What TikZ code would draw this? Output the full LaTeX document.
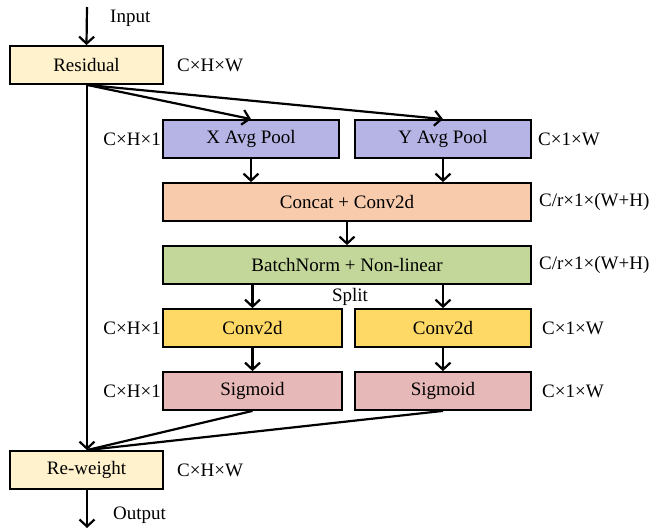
\documentclass[tikz,border=0pt]{standalone}
\usepackage{fontspec}
\setmainfont{Liberation Serif}
\usetikzlibrary{arrows.meta}
\definecolor{cres}{HTML}{FFF2CC}
\definecolor{cpool}{HTML}{B6B4E4}
\definecolor{ccat}{HTML}{F8CBAD}
\definecolor{cbn}{HTML}{C4D79B}
\definecolor{cconv}{HTML}{FFD966}
\definecolor{csig}{HTML}{E6B8B7}
\tikzset{
  blk/.style={draw=black, line width=1.8pt, minimum height=38pt, inner sep=0pt, font=\fontsize{19}{22}\selectfont},
  lbl/.style={inner sep=0pt, font=\fontsize{19}{22}\selectfont},
  arr/.style={line width=2.2pt, -{Straight Barb[length=7pt,width=15pt,line width=2.2pt]}},
  ln/.style={line width=2.2pt}
}
\begin{document}
\begin{tikzpicture}[x=1pt,y=-1pt]
\useasboundingbox (0,0) rectangle (651,531);
\node[blk, fill=cres, minimum width=153pt] (res) at (86.5,65) {Residual};
\node[blk, fill=cpool, minimum width=176pt] (xp) at (251,139) {X Avg Pool};
\node[blk, fill=cpool, minimum width=176pt] (yp) at (443,139) {Y Avg Pool};
\node[blk, fill=ccat, minimum width=368pt] (cat) at (347,202) {Concat + Conv2d};
\node[blk, fill=cbn, minimum width=368pt] (bn) at (347,265) {BatchNorm + Non-linear};
\node[blk, fill=cconv, minimum width=179pt] (cx) at (252.5,328) {Conv2d};
\node[blk, fill=cconv, minimum width=176pt] (cy) at (443,328) {Conv2d};
\node[blk, fill=csig, minimum width=179pt] (sx) at (252.5,391) {Sigmoid};
\node[blk, fill=csig, minimum width=176pt] (sy) at (443,391) {Sigmoid};
\node[blk, fill=cres, minimum width=153pt] (rw) at (86.5,470) {Re-weight};

\coordinate (in) at (87,7);
\coordinate (out) at (87,528);
\node[lbl, anchor=west] (tin) at (110,18) {Input};
\node[lbl, anchor=west] (tout) at (113,515) {Output};
\node[lbl, anchor=west] (d1) at (177,65) {C×H×W};
\node[lbl, anchor=west] (d2) at (177,470) {C×H×W};
\node[lbl, anchor=east] (d3) at (161,139) {C×H×1};
\node[lbl, anchor=west] (d4) at (538,139) {C×1×W};
\node[lbl, anchor=west] (d5) at (539,202) {C/r×1×(W+H)};
\node[lbl, anchor=west] (d6) at (539,265) {C/r×1×(W+H)};
\node[lbl, anchor=east] (d7) at (161,328) {C×H×1};
\node[lbl, anchor=west] (d8) at (542,328) {C×1×W};
\node[lbl, anchor=east] (d9) at (161,391) {C×H×1};
\node[lbl, anchor=west] (d10) at (542,391) {C×1×W};
\node[lbl] (split) at (350,297) {Split};

\draw[arr] (in) -- (res.north);
\draw[arr] ([xshift=0.5pt]res.south) -- (xp.north);
\draw[arr] ([xshift=0.5pt]res.south) -- (yp.north);
\draw[arr] ([xshift=0.5pt]res.south) -- ([xshift=0.5pt]rw.north);
\draw[arr] (xp.south) -- (xp.south |- cat.north);
\draw[arr] (yp.south) -- (yp.south |- cat.north);
\draw[arr] (cat.south) -- (bn.north);
\draw[arr] (cx.north |- bn.south) -- (cx.north);
\draw[arr] (cy.north |- bn.south) -- (cy.north);
\draw[arr] (cx.south) -- (sx.north);
\draw[arr] (cy.south) -- (sy.north);
\draw[ln] (sx.south) -- ([xshift=0.5pt]rw.north);
\draw[ln] (sy.south) -- ([xshift=0.5pt]rw.north);
\draw[arr] ([xshift=0.5pt]rw.south) -- (out);
\end{tikzpicture}
\end{document}
